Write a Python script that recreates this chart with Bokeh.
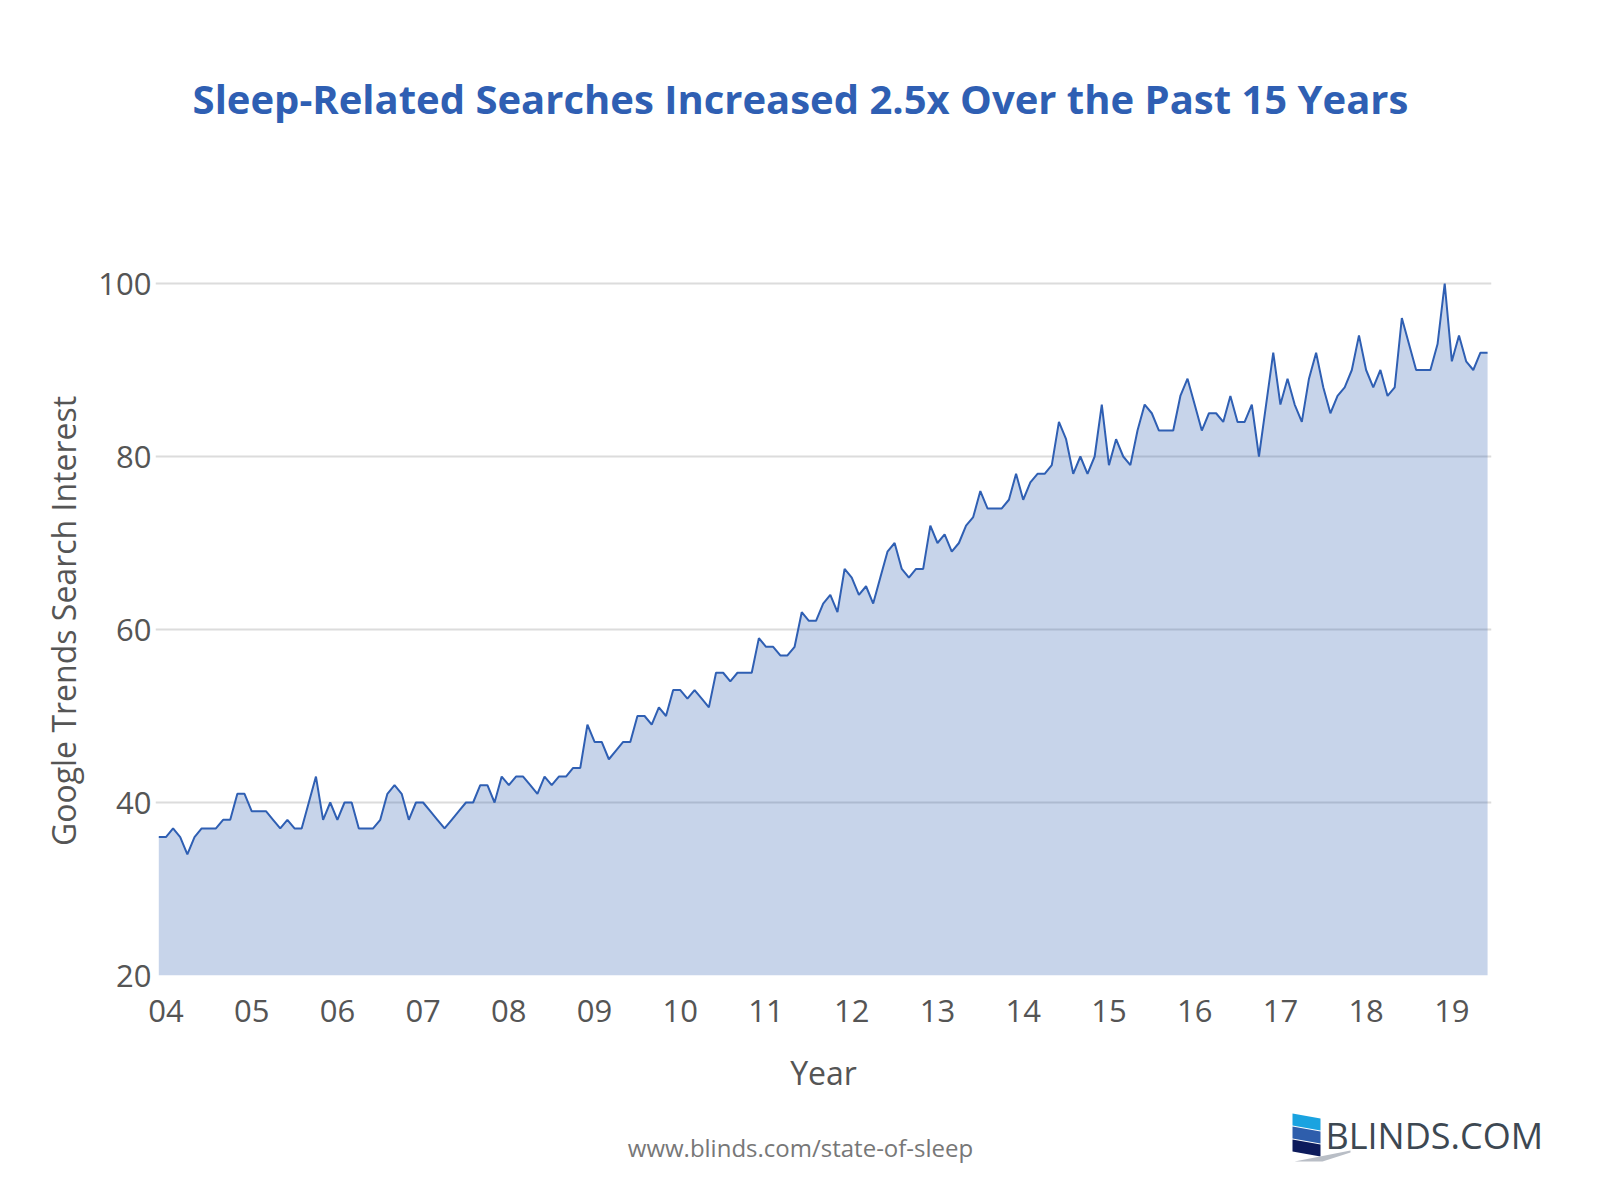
from bokeh.plotting import figure
from bokeh.models import Range1d, FixedTicker, Label, ColumnDataSource
from bokeh.layouts import column, row
from bokeh.embed import file_html
from bokeh.resources import INLINE

# ---------------- data (monthly Google Trends interest, Jan 2004 - Jul 2019) -------------
v2004 = [36, 36, 37, 36, 34, 36, 37, 37, 37, 38, 38, 41]
v2005 = [41, 39, 39, 39, 38, 37, 38, 37, 37, 40, 43, 38]
v2006 = [40, 38, 40, 40, 37, 37, 37, 38, 41, 42, 41, 38]
v2007 = [40, 40, 39, 38, 37, 38, 39, 40, 40, 42, 42, 40]
v2008 = [43, 42, 43, 43, 42, 41, 43, 42, 43, 43, 44, 44]
v2009 = [49, 47, 47, 45, 46, 47, 47, 50, 50, 49, 51, 50]
v2010 = [53, 53, 52, 53, 52, 51, 55, 55, 54, 55, 55, 55]
v2011 = [59, 58, 58, 57, 57, 58, 62, 61, 61, 63, 64, 62]
v2012 = [67, 66, 64, 65, 63, 66, 69, 70, 67, 66, 67, 67]
v2013 = [72, 70, 71, 69, 70, 72, 73, 76, 74, 74, 74, 75]
v2014 = [78, 75, 77, 78, 78, 79, 84, 82, 78, 80, 78, 80]
v2015 = [86, 79, 82, 80, 79, 83, 86, 85, 83, 83, 83, 87]
v2016 = [89, 86, 83, 85, 85, 84, 87, 84, 84, 86, 80, 86]
v2017 = [92, 86, 89, 86, 84, 89, 92, 88, 85, 87, 88, 90]
v2018 = [94, 90, 88, 90, 87, 88, 96, 93, 90, 90, 90, 93]
v2019 = [100, 91, 94, 91, 90, 92, 92]

year_labels = ["04", "05", "06", "07", "08", "09", "10", "11",
               "12", "13", "14", "15", "16", "17", "18", "19"]
y_ticks = [20, 40, 60, 80, 100]

values = (v2004 + v2005 + v2006 + v2007 + v2008 + v2009 + v2010 + v2011 +
          v2012 + v2013 + v2014 + v2015 + v2016 + v2017 + v2018 + v2019)
months = list(range(len(values)))
x_ticks = [12 * k + 1 for k in range(len(year_labels))]

# ---------------- layout geometry (page pixels inside the 8px margin) ----------------
FONT = "Open Sans"
W = 1584
H_HEAD = 180
H_MAIN = 932
H_FOOT = 72
FR_L, FR_R, FR_T, FR_B = 155, 1491, 266, 975
PX_M = 7.144      # px per month
PX_U = 8.65       # px per unit
X0 = -0.46
x_end = X0 + (FR_R - FR_L) / PX_M
y_end = 20 + (FR_B - FR_T) / PX_U

BLUE = "#2f5fb3"
GRAY = "#555555"

def blank(h):
    fig = figure(width=W, height=h, x_range=Range1d(0, W), y_range=Range1d(0, h),
                 output_backend="svg", toolbar_location=None, min_border=0,
                 x_axis_location=None, y_axis_location=None)
    fig.outline_line_color = None
    fig.grid.visible = False
    fig.background_fill_color = "white"
    fig.border_fill_color = "white"
    return fig

# ---------------- header ----------------
hdr = blank(H_HEAD)
hdr.add_layout(Label(x=800, y=H_HEAD - 98,
                     text="Sleep-Related Searches Increased 2.5x Over the Past 15 Years",
                     text_align="center", text_baseline="alphabetic",
                     text_font=FONT, text_font_size="40px", text_font_style="bold",
                     text_color=BLUE))

# ---------------- main chart ----------------
p = figure(width=W, height=H_MAIN,
           x_range=Range1d(X0, x_end), y_range=Range1d(20, y_end),
           output_backend="svg", toolbar_location=None,
           min_border_left=FR_L, min_border_right=W - FR_R,
           min_border_top=FR_T - H_HEAD, min_border_bottom=H_HEAD + H_MAIN - FR_B)
p.outline_line_color = None
p.background_fill_color = "white"
p.border_fill_color = "white"

src = ColumnDataSource(dict(m=months, v=values, base=[20] * len(values)))
p.varea(x="m", y1="base", y2="v", source=src, fill_color=BLUE, fill_alpha=0.27)
p.line(x="m", y="v", source=src, line_color=BLUE, line_width=2)

p.xgrid.grid_line_color = None
p.ygrid.grid_line_color = "#dcdcdc"
p.ygrid.grid_line_width = 2

for ax in (p.xaxis, p.yaxis):
    ax.axis_line_color = None
    ax.major_tick_line_color = None
    ax.minor_tick_line_color = None
    ax.major_tick_out = 0
    ax.major_tick_in = 0
    ax.minor_tick_out = 0
    ax.major_label_text_font = FONT
    ax.major_label_text_font_size = "31px"
    ax.major_label_text_color = GRAY
    ax.axis_label_text_font = FONT
    ax.axis_label_text_font_size = "32px"
    ax.axis_label_text_font_style = "normal"
    ax.axis_label_text_color = GRAY

p.xaxis.ticker = FixedTicker(ticks=x_ticks)
p.xaxis.major_label_overrides = {t: lab for t, lab in zip(x_ticks, year_labels)}
p.xaxis.major_label_standoff = 24
p.xaxis.axis_label = "Year"
p.xaxis.axis_label_standoff = 26

p.yaxis.ticker = FixedTicker(ticks=y_ticks)
p.yaxis.major_label_standoff = 4
p.yaxis.axis_label = "Google Trends Search Interest"
p.yaxis.axis_label_standoff = 10

# ---------------- footer ----------------
ftr = blank(H_FOOT)
FOOT_BOTTOM = H_HEAD + H_MAIN + H_FOOT

def fy(py):
    return FOOT_BOTTOM - py

ftr.add_layout(Label(x=800, y=fy(1147), text="www.blinds.com/state-of-sleep",
                     text_align="center", text_baseline="alphabetic",
                     text_font=FONT, text_font_size="24px", text_color="#777777"))

stripe_cols = ["#1aa3e0", "#2e5eac", "#0d1b5c"]
xs, ys = [], []
for k in range(3):
    t = 1113 + k * 13
    xs.append([1292, 1320, 1320, 1292])
    ys.append([fy(t), fy(t + 5), fy(t + 17), fy(t + 12)])
ftr.patches(xs, ys, fill_color=stripe_cols, line_color=None)
ftr.patch([1294, 1350, 1350, 1322], [fy(1161), fy(1150), fy(1152), fy(1161)],
          fill_color="#b9bec6", line_color=None)

ftr.add_layout(Label(x=1325, y=fy(1135), text="BLINDS.COM",
                     text_align="left", text_baseline="alphabetic",
                     text_font=FONT, text_font_size="36px", text_color="#3d4852"))

layout = column(row(hdr), p, row(ftr))
open("out.html", "w").write(file_html(layout, INLINE))
